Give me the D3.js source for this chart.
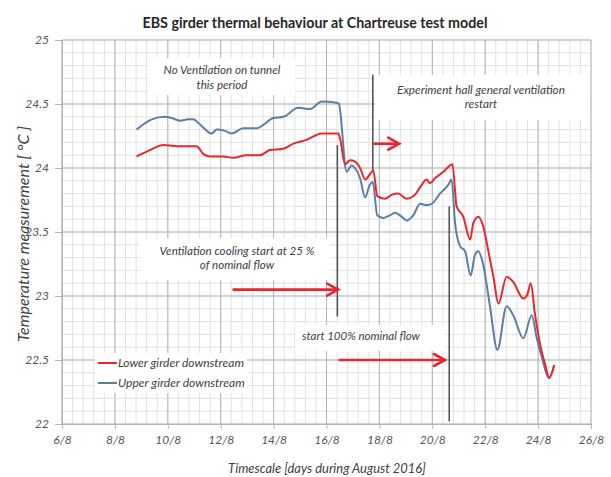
<!DOCTYPE html>
<html>
<head>
<meta charset="utf-8">
<script src="https://cdn.jsdelivr.net/npm/d3@7/dist/d3.min.js"></script>
<style>
  html, body { margin: 0; padding: 0; background: #ffffff; }
  svg { display: block; }
  text { font-family: Lato, "Open Sans", sans-serif; }
</style>
</head>
<body>
<svg id="chart" width="611" height="477"></svg>
<script>
// ---------------- DATA ----------------
const titleText = "EBS girder thermal behaviour at Chartreuse test model";
const xAxisTitle = "Timescale [days during August 2016]";
const yAxisTitle = "Temperature measurement [ °C ]";

const xTickValues = [6, 8, 10, 12, 14, 16, 18, 20, 22, 24, 26];
const xTickLabels = ["6/8", "8/8", "10/8", "12/8", "14/8", "16/8", "18/8", "20/8", "22/8", "24/8", "26/8"];
const yTickValues = [22, 22.5, 23, 23.5, 24, 24.5, 25];
const yTickLabels = ["22", "22.5", "23", "23.5", "24", "24.5", "25"];

const seriesNames = ["Lower girder downstream", "Upper girder downstream"];

// Lower girder downstream (red): day of August, temperature °C
const lowerDays = [8.82, 9.33, 9.83, 10.34, 10.84, 11.09, 11.34, 11.6, 12.1, 12.48, 12.98, 13.49, 13.86, 14.37, 14.75, 15.25, 15.82, 16.45,
  16.52, 16.7, 16.89, 17.08, 17.27, 17.46, 17.71, 17.77, 17.92, 18.21, 18.46, 18.71, 19.03, 19.34, 19.54, 19.79, 19.91, 20.1, 20.42, 20.67, 20.76,
  20.92, 21.17, 21.43, 21.55, 21.74, 21.93, 22.12, 22.31, 22.5, 22.81, 23.06, 23.44, 23.59, 23.72, 23.88, 24.07, 24.26, 24.42, 24.61];
const lowerTemps = [24.09, 24.14, 24.18, 24.17, 24.17, 24.17, 24.11, 24.09, 24.09, 24.08, 24.10, 24.10, 24.14, 24.15, 24.19, 24.22, 24.27, 24.27,
  24.22, 24.03, 24.06, 24.05, 24.00, 23.91, 23.97, 23.98, 23.78, 23.76, 23.79, 23.80, 23.76, 23.79, 23.85, 23.91, 23.88, 23.92, 23.97, 24.02, 24.03,
  23.70, 23.62, 23.44, 23.57, 23.62, 23.54, 23.35, 23.15, 22.94, 23.15, 23.11, 22.98, 23.01, 23.10, 22.86, 22.63, 22.47, 22.36, 22.46];

// Upper girder downstream (blue)
const upperDays = [8.82, 9.07, 9.39, 9.89, 10.15, 10.46, 10.78, 10.96, 11.22, 11.66, 11.85, 12.16, 12.42, 12.85, 13.36, 13.99, 14.37, 14.93, 15.38, 15.82, 16.39,
  16.47, 16.76, 16.95, 17.08, 17.27, 17.46, 17.64, 17.75, 17.92, 18.15, 18.4, 18.59, 18.84, 19.03, 19.28, 19.54, 19.79, 19.98, 20.29, 20.61, 20.73,
  20.86, 21.05, 21.24, 21.45, 21.61, 21.74, 21.93, 22.18, 22.46, 22.81, 23.06, 23.44, 23.76, 23.94, 24.13, 24.42, 24.61];
const upperTemps = [24.30, 24.34, 24.38, 24.40, 24.39, 24.37, 24.38, 24.38, 24.34, 24.27, 24.30, 24.29, 24.27, 24.31, 24.31, 24.39, 24.40, 24.47, 24.46, 24.52, 24.51,
  24.50, 23.97, 24.02, 24.00, 23.92, 23.77, 23.87, 23.89, 23.63, 23.61, 23.63, 23.65, 23.62, 23.59, 23.63, 23.72, 23.71, 23.72, 23.80, 23.87, 23.91,
  23.57, 23.39, 23.35, 23.16, 23.32, 23.35, 23.24, 22.92, 22.58, 22.92, 22.85, 22.67, 22.85, 22.68, 22.53, 22.36, 22.46];

// Event markers (vertical lines): day, top temp, bottom temp
const eventDays = [16.41, 17.75, 20.64];
const eventTopTemps = [24.18, 24.73, 23.70];
const eventBottomTemps = [22.84, 23.98, 22.02];

// Red arrows: start day, end day, temperature level
const arrowStartDays = [12.45, 17.77, 16.45];
const arrowEndDays = [16.44, 18.75, 20.48];
const arrowTemps = [23.05, 24.19, 22.5];

// Annotation texts
const noteLines = [
  ["No Ventilation on tunnel", "this period"],
  ["Experiment hall general ventilation", "restart"],
  ["Ventilation cooling start at 25 %", "of nominal flow"],
  ["start 100% nominal flow"]
];

// ---------------- LAYOUT ----------------
const svg = d3.select("#chart");
const pL = 62, pR = 591, pT = 40, pB = 424;
const x = d3.scaleLinear().domain([6, 26]).range([pL, pR]);
const y = d3.scaleLinear().domain([22, 25]).range([pB, pT]);

const majorColor = "#b3b3b3", minorColor = "#e2e2e2";
const redColor = "#e8262e", blueColor = "#5b7da6";
const textColor = "#404040";

function fitWidth(sel, target) {
  const w = sel.node().getComputedTextLength();
  const fs = parseFloat(sel.attr("font-size"));
  const nfs = w > 0 ? fs * target / w : fs;
  sel.attr("font-size", nfs);
  return nfs;
}

// minor gridlines
const minorX = d3.range(6, 26.0001, 0.4);
const minorY = d3.range(22, 25.0001, 0.1);
const g = svg.append("g");
g.selectAll(".mx").data(minorX).join("line")
  .attr("x1", d => x(d)).attr("x2", d => x(d)).attr("y1", pT).attr("y2", pB)
  .attr("stroke", minorColor).attr("stroke-width", 1);
g.selectAll(".my").data(minorY).join("line")
  .attr("x1", pL).attr("x2", pR).attr("y1", d => y(d)).attr("y2", d => y(d))
  .attr("stroke", minorColor).attr("stroke-width", 1);

// major gridlines
const g2 = svg.append("g");
g2.selectAll("line.vx").data(xTickValues).join("line").attr("class", "vx")
  .attr("x1", d => x(d)).attr("x2", d => x(d)).attr("y1", pT).attr("y2", pB)
  .attr("stroke", majorColor).attr("stroke-width", 1);
g2.selectAll("line.hy").data(yTickValues).join("line").attr("class", "hy")
  .attr("x1", pL).attr("x2", pR).attr("y1", d => y(d)).attr("y2", d => y(d))
  .attr("stroke", majorColor).attr("stroke-width", 1);

// axes
const xAxis = d3.axisBottom(x).tickValues(xTickValues)
  .tickFormat((d, i) => xTickLabels[i]).tickSize(5).tickPadding(6);
const yAxis = d3.axisLeft(y).tickValues(yTickValues)
  .tickFormat((d, i) => yTickLabels[i]).tickSize(7).tickPadding(6);

const gx = svg.append("g").attr("transform", `translate(0,${pB})`).call(xAxis);
const gy = svg.append("g").attr("transform", `translate(${pL},0)`).call(yAxis);
[gx, gy].forEach(ax => {
  ax.select(".domain").attr("stroke", majorColor);
  ax.selectAll(".tick line").attr("stroke", majorColor);
  ax.selectAll(".tick text").attr("fill", "#555555").attr("font-size", 12)
    .attr("font-style", "italic").attr("font-family", "Lato, 'Open Sans', sans-serif");
});

// white note boxes (hide gridlines)
const boxes = [
  [148, 58, 147, 37],
  [375, 75, 215, 45],
  [140, 238, 190, 42],
  [295, 325, 150, 26],
  [95, 353, 152, 40]
];
svg.append("g").selectAll("rect").data(boxes).join("rect")
  .attr("x", d => d[0]).attr("y", d => d[1]).attr("width", d => d[2]).attr("height", d => d[3])
  .attr("fill", "#ffffff");

// event vertical lines
svg.append("g").selectAll("line").data(eventDays).join("line")
  .attr("x1", d => x(d)).attr("x2", d => x(d))
  .attr("y1", (d, i) => y(eventTopTemps[i])).attr("y2", (d, i) => y(eventBottomTemps[i]))
  .attr("stroke", "#555555").attr("stroke-width", 1.6);

// series lines
const line = d3.line().x(d => x(d[0])).y(d => y(d[1])).curve(d3.curveMonotoneX);
const lowerData = lowerDays.map((d, i) => [d, lowerTemps[i]]);
const upperData = upperDays.map((d, i) => [d, upperTemps[i]]);
svg.append("path").datum(upperData).attr("d", line)
  .attr("fill", "none").attr("stroke", blueColor).attr("stroke-width", 2).attr("stroke-linejoin", "round");
svg.append("path").datum(lowerData).attr("d", line)
  .attr("fill", "none").attr("stroke", redColor).attr("stroke-width", 2).attr("stroke-linejoin", "round");

// arrows
const ag = svg.append("g");
arrowStartDays.forEach((s, i) => {
  const x1 = x(s), x2 = x(arrowEndDays[i]), yy = y(arrowTemps[i]);
  ag.append("line").attr("x1", x1).attr("x2", x2 - 2).attr("y1", yy).attr("y2", yy)
    .attr("stroke", redColor).attr("stroke-width", 2.6);
  ag.append("path").attr("d", `M${x2 - 11},${yy - 6} L${x2},${yy} L${x2 - 11},${yy + 6}`)
    .attr("fill", "none").attr("stroke", redColor).attr("stroke-width", 2.6)
    .attr("stroke-linejoin", "miter").attr("stroke-linecap", "round");
});

// notes
const noteCfg = [
  { cx: 222, ys: [74, 89], w: 117, anchor: "middle" },
  { cx: 481, ys: [94, 108], w: 168, anchor: "middle" },
  { cx: 237, ys: [255, 269], w: 155, anchor: "middle" },
  { cx: 302, ys: [340], w: 118, anchor: "start" }
];
noteLines.forEach((lines, i) => {
  const c = noteCfg[i];
  let fs = 11;
  lines.forEach((t, j) => {
    const el = svg.append("text").attr("x", c.cx).attr("y", c.ys[j])
      .attr("text-anchor", c.anchor).attr("font-style", "italic")
      .attr("fill", textColor).attr("font-size", fs).text(t);
    if (j === 0) fs = fitWidth(el, c.w);
  });
});

// legend
const legColors = [redColor, blueColor];
const legY = [363, 383];
let legFs = 11;
seriesNames.forEach((n, i) => {
  svg.append("line").attr("x1", 98).attr("x2", 117).attr("y1", legY[i]).attr("y2", legY[i])
    .attr("stroke", legColors[i]).attr("stroke-width", 2);
  const t = svg.append("text").attr("x", 118).attr("y", legY[i] + 4)
    .attr("font-style", "italic").attr("fill", textColor).attr("font-size", legFs).text(n);
  if (i === 0) legFs = fitWidth(t, 126);
});

// title
const tt = svg.append("text").attr("x", 315).attr("y", 28).attr("text-anchor", "middle")
  .attr("font-weight", "bold").attr("fill", "#262626").attr("font-size", 13).text(titleText);
fitWidth(tt, 345);

// axis titles
const xt = svg.append("text").attr("x", 327).attr("y", 473).attr("text-anchor", "middle")
  .attr("font-style", "italic").attr("fill", textColor).attr("font-size", 12).text(xAxisTitle);
fitWidth(xt, 198);
const yt = svg.append("text").attr("transform", "translate(29,234) rotate(-90)").attr("text-anchor", "middle")
  .attr("font-style", "italic").attr("fill", textColor).attr("font-size", 12).text(yAxisTitle);
fitWidth(yt, 216);
</script>
</body>
</html>
